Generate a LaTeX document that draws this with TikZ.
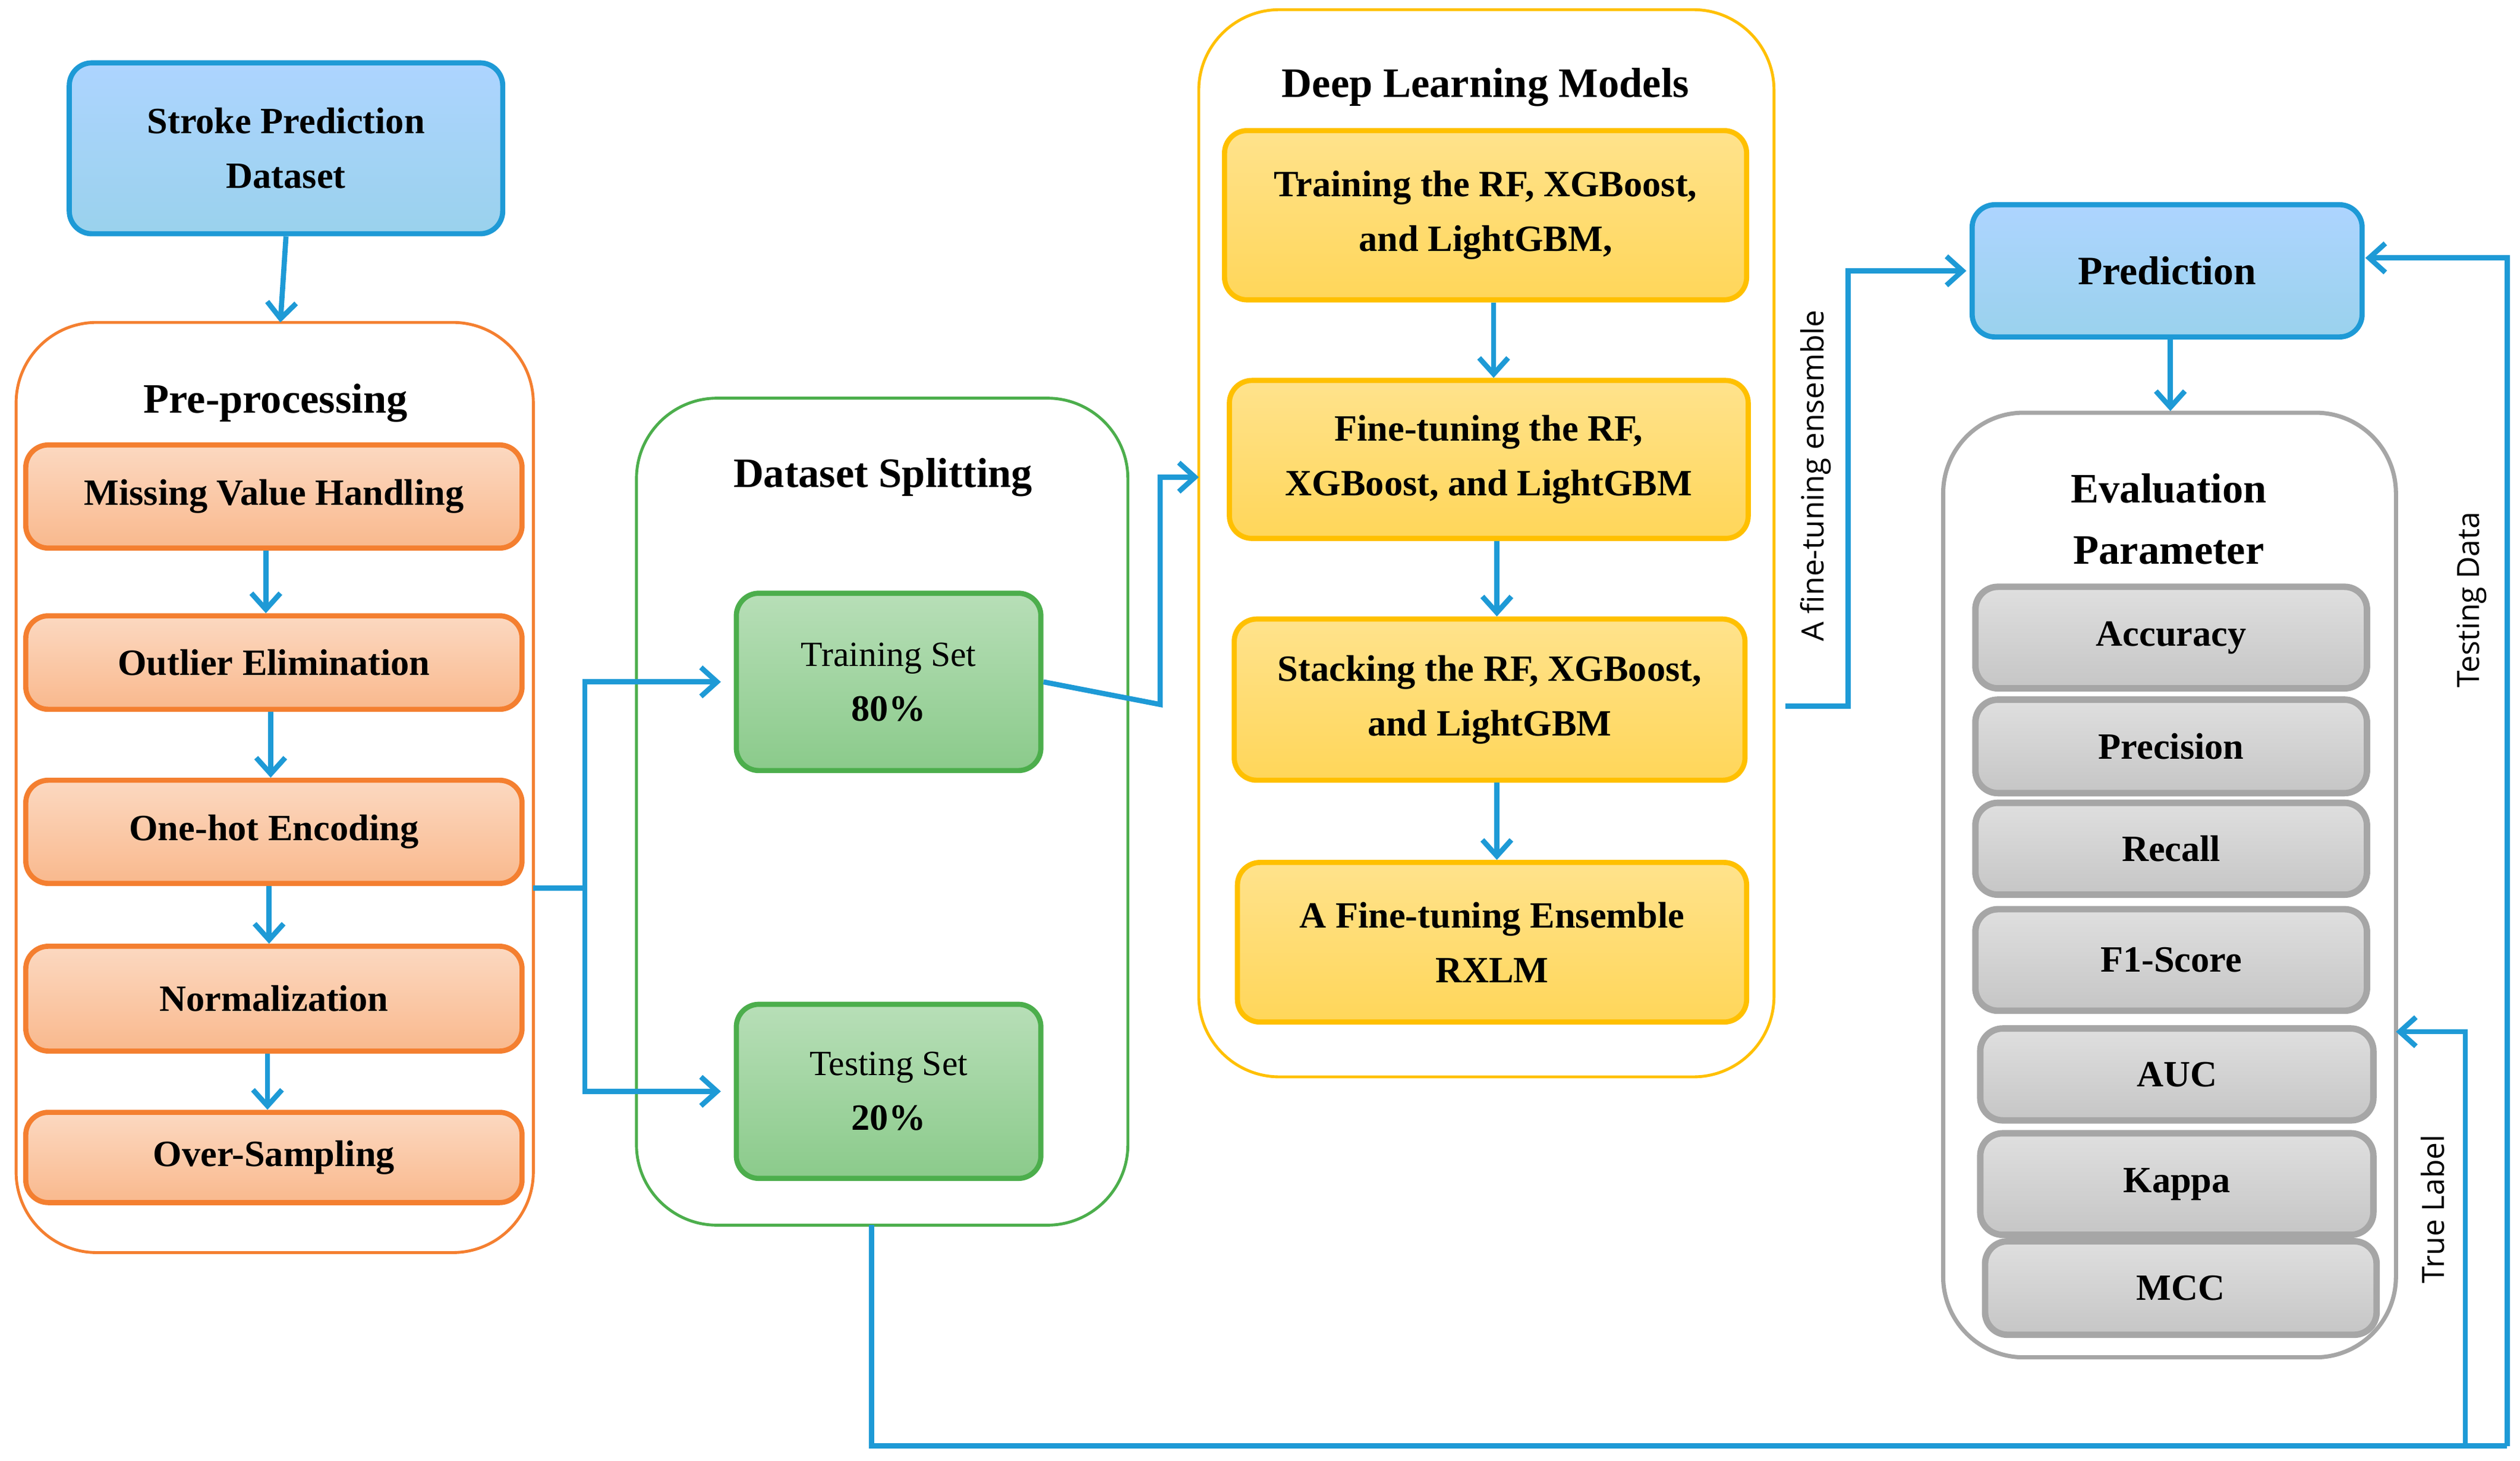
\documentclass[tikz,border=0pt]{standalone}
\usepackage{fontspec}
\setmainfont{Liberation Serif}
\newfontfamily\sidefont{Open Sans}
\usetikzlibrary{arrows.meta}
\definecolor{lblue}{HTML}{1E9AD6}
\definecolor{orng}{HTML}{F47F30}
\definecolor{grn}{HTML}{4CAE4C}
\definecolor{yel}{HTML}{FFC000}
\definecolor{gry}{HTML}{A6A6A6}
\tikzset{
 box/.style={draw, line width=1.6pt, rounded corners=7pt, align=center, font=\bfseries\fontsize{11.5}{17}\selectfont, inner sep=0pt},
 bluebox/.style={box, draw=lblue, top color=blue!10!cyan!20!white!85!blue, bottom color=lblue!45!white},
 orbox/.style={box, draw=orng, top color=orng!30!white, bottom color=orng!55!white},
 grbox/.style={box, draw=grn, top color=grn!40!white, bottom color=grn!65!white},
 yebox/.style={box, draw=yel, top color=yel!45!white, bottom color=yel!65!white},
 gybox/.style={box, draw=gry, line width=2pt, top color=gray!25, bottom color=gray!45},
 cont/.style={draw, line width=0.9pt, rounded corners=25pt},
 ttl/.style={font=\bfseries\fontsize{13}{19}\selectfont, align=center},
 arr/.style={draw=lblue, line width=1.6pt, -{Straight Barb[length=5pt,width=9pt]}},
 ln/.style={draw=lblue, line width=1.6pt},
 side/.style={font=\sidefont\fontsize{9.5}{11}\selectfont, rotate=90}
}
\newcommand{\bx}[5]{\node[#1, minimum width={(#4-#2)*0.5pt}, minimum height={(#5-#3)*0.5pt}] at ({(#2+#4)/2},{(#3+#5)/2})}
\begin{document}
\begin{tikzpicture}[x=0.5pt,y=-0.5pt]
\useasboundingbox (0,0) rectangle (1564,906);
% containers
\draw[cont, draw=orng] (10,200) rectangle (331,777);
\draw[cont, draw=grn] (395,247) rectangle (700,760);
\draw[cont, draw=yel] (744,6) rectangle (1101,668);
\draw[cont, draw=gry, line width=1.3pt] (1206,256) rectangle (1487,842);
\coordinate (pre) at (331,551);
\coordinate (dsl) at (395,551);
\coordinate (dlL) at (744,296);
\coordinate (dlR) at (1101,438);
\coordinate (evR) at (1487,640);
\coordinate (dsB) at (541,760);
\node[ttl] (tpre) at (171,250) {Pre-processing};
\node[ttl] (tds) at (548,296) {Dataset Splitting};
\node[ttl] (tdl) at (922,54) {Deep Learning Models};
\node[ttl] (tev) at (1346,322) {Evaluation\\Parameter};
% boxes
\bx{bluebox}{43}{39}{312}{145} (spd) {Stroke Prediction\\Dataset};
\bx{orbox}{16}{276}{324}{340} (o1) {Missing Value Handling};
\bx{orbox}{16}{382}{324}{440} (o2) {Outlier Elimination};
\bx{orbox}{16}{484}{324}{548} (o3) {One-hot Encoding};
\bx{orbox}{16}{587}{324}{652} (o4) {Normalization};
\bx{orbox}{16}{690}{324}{746} (o5) {Over-Sampling};
\bx{grbox}{457}{368}{646}{478} (tr) {\normalfont\fontsize{11}{17}\selectfont Training Set\\80\%};
\bx{grbox}{457}{623}{646}{731} (te) {\normalfont\fontsize{11}{17}\selectfont Testing Set\\20\%};
\bx{yebox}{760}{81}{1084}{186} (y1) {Training the RF, XGBoost,\\and LightGBM,};
\bx{yebox}{763}{236}{1085}{334} (y2) {Fine-tuning the RF,\\XGBoost, and LightGBM};
\bx{yebox}{766}{384}{1083}{484} (y3) {Stacking the RF, XGBoost,\\and LightGBM};
\bx{yebox}{768}{535}{1084}{634} (y4) {A Fine-tuning Ensemble\\RXLM};
\bx{bluebox}{1224}{127}{1466}{209} (pr) {\fontsize{12.5}{17}\selectfont Prediction};
\bx{gybox}{1226}{364}{1469}{427} (g1) {Accuracy};
\bx{gybox}{1226}{434}{1469}{492} (g2) {Precision};
\bx{gybox}{1226}{498}{1469}{555} (g3) {Recall};
\bx{gybox}{1226}{564}{1469}{627} (g4) {F1-Score};
\bx{gybox}{1229}{638}{1473}{695} (g5) {AUC};
\bx{gybox}{1229}{703}{1473}{766} (g6) {Kappa};
\bx{gybox}{1232}{770}{1475}{828} (g7) {MCC};
% arrows
\draw[arr] (spd.south) -- (174,200);
\draw[arr] (o1.south -| 165,0) -- (o2.north -| 165,0);
\draw[arr] (o2.south -| 168,0) -- (o3.north -| 168,0);
\draw[arr] (o3.south -| 167,0) -- (o4.north -| 167,0);
\draw[arr] (o4.south -| 166,0) -- (o5.north -| 166,0);
\draw[ln] (pre) -- (363,551);
\draw[arr] (363,551) |- ([xshift=-4pt]tr.west);
\draw[arr] (363,551) |- ([xshift=-4pt]te.west);
\draw[arr] (tr.east) -- (720,437) |- (dlL);
\draw[arr] (y1.south -| 927,0) -- (y2.north -| 927,0);
\draw[arr] (y2.south -| 929,0) -- (y3.north -| 929,0);
\draw[arr] (y3.south -| 929,0) -- (y4.north -| 929,0);
\draw[arr] (1108,438) -- (1147,438) |- ([xshift=-1pt]pr.west);
\node[side] (lfe) at (1127,295) {A fine-tuning ensemble};
\draw[arr] (pr.south -| 1347,0) -- (1347,255);
\draw[ln] (dsB) -- (541,897) -- (1556,897);
\draw[arr] (1556,897) |- (1468,160);
\draw[arr] (1530,897) |- (evR);
\node[side] (ltd) at (1534,372) {Testing Data};
\node[side] (ltl) at (1510,750) {True Label};
\end{tikzpicture}
\end{document}
